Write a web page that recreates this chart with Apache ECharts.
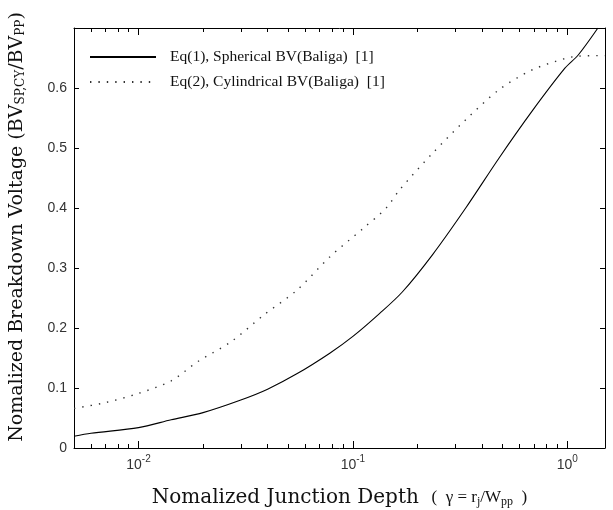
<!DOCTYPE html>
<html>
<head>
<meta charset="utf-8">
<script src="https://cdn.jsdelivr.net/npm/echarts@6/dist/echarts.min.js"></script>
<style>html,body{margin:0;padding:0;background:#fff}#c{width:613px;height:510px}</style>
</head>
<body>
<div id="c"></div>
<script>
// Eq(1) spherical
const gammaSph = [0.005, 0.006, 0.01, 0.0142, 0.02, 0.03, 0.04, 0.055, 0.078, 0.1, 0.133, 0.17, 0.235, 0.336, 0.48, 0.684, 0.975, 1.125, 1.39];
const bvSph    = [0.0195, 0.0245, 0.034, 0.047, 0.059, 0.080, 0.098, 0.124, 0.158, 0.186, 0.224, 0.26, 0.322, 0.40, 0.483, 0.561, 0.633, 0.655, 0.70];
// Eq(2) cylindrical
const gammaCyl = [0.005, 0.007, 0.01, 0.0142, 0.0189, 0.027, 0.0385, 0.0548, 0.0783, 0.1117, 0.143, 0.165, 0.235, 0.336, 0.48, 0.684, 0.975, 1.125, 1.5];
const bvCyl    = [0.066, 0.0756, 0.091, 0.112, 0.144, 0.177, 0.222, 0.263, 0.319, 0.366, 0.40, 0.43, 0.491, 0.547, 0.597, 0.63, 0.649, 0.653, 0.654];

const seriesNames = ['Eq(1), Spherical BV(Baliga)  [1]', 'Eq(2), Cylindrical BV(Baliga)  [1]'];
const xMin = 0.005, xMax = 1.5;
const majorTicks = [0.01, 0.1, 1];
const minorTicks = [0.006,0.007,0.008,0.009, 0.02,0.03,0.04,0.05,0.06,0.07,0.08,0.09, 0.2,0.3,0.4,0.5,0.6,0.7,0.8,0.9];
const yTicks = [0, 0.1, 0.2, 0.3, 0.4, 0.5, 0.6];

const lg = v => Math.log10(v);
const toPts = (xs, ys) => xs.map((x, i) => [lg(x), ys[i]]);

const chart = echarts.init(document.getElementById('c'), null, {renderer: 'canvas'});
const common = {type: 'value', min: lg(xMin), max: lg(xMax), gridIndex: 0, splitLine: {show: false}};
const supRich = {
  b: {fontFamily: 'Liberation Sans', fontSize: 14, color: '#333'},
  s: {fontFamily: 'Liberation Sans', fontSize: 10, color: '#333', padding: [0, 0, 13, 0]}
};
chart.setOption({
  animation: false,
  backgroundColor: '#fff',
  grid: {left: 74, right: 8, top: 28, bottom: 62, containLabel: false, outerBoundsMode: 'none'},
  legend: {
    orient: 'vertical', left: 84, top: 44, itemWidth: 66, itemHeight: 14, itemGap: 9,
    data: seriesNames,
    itemStyle: {opacity: 0},
    textStyle: {fontFamily: 'Liberation Serif', fontSize: 15.5, color: '#111', padding: [0, 0, 0, 9]}
  },
  xAxis: [
    Object.assign({}, common, {
      position: 'bottom',
      axisLine: {show: true, onZero: false, lineStyle: {color: '#000', width: 1}},
      axisTick: {show: true, inside: true, length: 7, customValues: majorTicks.map(lg), lineStyle: {color: '#000'}},
      axisLabel: {show: true, customValues: majorTicks.map(lg), margin: 6,
        formatter: v => '{b|10}{s|' + Math.round(v) + '}', rich: supRich},
      name: '{t|Nomalized Junction Depth}{p|   (  γ = r}{ps|j}{p|/W}{ps|pp}{p|  )}',
      nameLocation: 'middle', nameGap: 40,
      nameTextStyle: {
        rich: {
          t: {fontFamily: 'DejaVu Serif', fontSize: 20, color: '#111'},
          p: {fontFamily: 'Liberation Serif', fontSize: 17, color: '#111'},
          ps: {fontFamily: 'Liberation Serif', fontSize: 12, color: '#111', padding: [7, 0, 0, 0]}
        }
      }
    }),
    Object.assign({}, common, {
      position: 'bottom',
      axisLine: {show: false, onZero: false},
      axisTick: {show: true, inside: true, length: 4, customValues: minorTicks.map(lg), lineStyle: {color: '#000'}},
      axisLabel: {show: false}
    }),
    Object.assign({}, common, {
      position: 'top',
      axisLine: {show: true, onZero: false, lineStyle: {color: '#000', width: 1}},
      axisTick: {show: true, inside: true, length: 7, customValues: majorTicks.map(lg), lineStyle: {color: '#000'}},
      axisLabel: {show: false}
    }),
    Object.assign({}, common, {
      position: 'top',
      axisLine: {show: false, onZero: false},
      axisTick: {show: true, inside: true, length: 4, customValues: minorTicks.map(lg), lineStyle: {color: '#000'}},
      axisLabel: {show: false}
    })
  ],
  yAxis: [
    {
      type: 'value', min: 0, max: 0.7, interval: 0.1, position: 'left',
      splitLine: {show: false},
      axisLine: {show: true, onZero: false, lineStyle: {color: '#000', width: 1}},
      axisTick: {show: true, inside: true, length: 5, lineStyle: {color: '#000'}},
      axisLabel: {show: true, customValues: yTicks, margin: 7, fontFamily: 'Liberation Sans', fontSize: 14, color: '#333',
        formatter: v => v === 0 ? '0' : v.toFixed(1)},
      name: '{t|Nomalized Breakdown Voltage (BV}{s|SP,CY}{t|/BV}{s|PP}{t|)}',
      nameLocation: 'middle', nameGap: 47,
      nameTextStyle: {
        padding: [0, 0, 0, 22],
        rich: {
          t: {fontFamily: 'DejaVu Serif', fontSize: 19, color: '#111'},
          s: {fontFamily: 'DejaVu Serif', fontSize: 12, color: '#111', padding: [6, 0, 0, 0]}
        }
      }
    },
    {
      type: 'value', min: 0, max: 0.7, interval: 0.1, position: 'right',
      splitLine: {show: false},
      axisLine: {show: true, onZero: false, lineStyle: {color: '#000', width: 1}},
      axisTick: {show: true, inside: true, length: 5, lineStyle: {color: '#000'}},
      axisLabel: {show: false}
    }
  ],
  series: [
    {
      name: seriesNames[0], type: 'line', xAxisIndex: 0, yAxisIndex: 0,
      data: toPts(gammaSph, bvSph), showSymbol: false, symbol: 'none', smooth: 0.3,
      lineStyle: {color: '#000', width: 1.1, type: 'solid'}, itemStyle: {color: '#000'}
    },
    {
      name: seriesNames[1], type: 'line', xAxisIndex: 0, yAxisIndex: 0,
      data: toPts(gammaCyl, bvCyl), showSymbol: false, symbol: 'none', smooth: 0.3,
      lineStyle: {color: '#333', width: 1.4, type: [1.4, 7]}, itemStyle: {color: '#333'}
    }
  ]
});
</script>
</body>
</html>
